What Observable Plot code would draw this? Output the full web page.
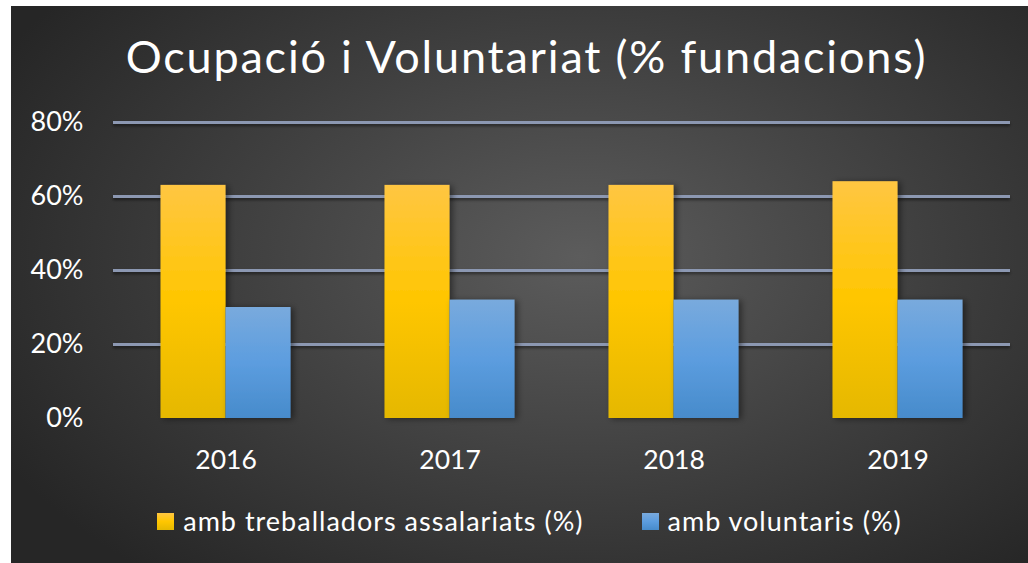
<!DOCTYPE html>
<html>
<head>
<meta charset="utf-8">
<script src="https://cdn.jsdelivr.net/npm/d3@7"></script>
<script src="https://cdn.jsdelivr.net/npm/@observablehq/plot@0.6"></script>
<style>
  html, body { margin: 0; padding: 0; background: #ffffff; }
  #card {
    position: absolute; left: 11px; top: 6px; width: 1017px; height: 557px;
    background: radial-gradient(ellipse 65% 75% at 56% 45%, #5c5c5c 0%, #3e3e3e 55%, #262626 100%);
    font-family: Lato, "Open Sans", sans-serif; color: #ffffff; overflow: hidden;
  }
  #title {
    position: absolute; left: 0; width: 100%; top: 26px; text-align: center;
    font-size: 45px; line-height: 48px; letter-spacing: 1.8px; padding-left: 14px; box-sizing: border-box;
  }
  #chart { position: absolute; left: 0; top: 95px; }
  #legend {
    position: absolute; left: 0; width: 100%; top: 500px; display: flex;
    justify-content: center; gap: 58px; font-size: 27px; line-height: 30px; letter-spacing: 1px;
    padding-left: 20px; box-sizing: border-box;
  }
  .item { display: flex; align-items: center; gap: 9px; }
  .sw { width: 17px; height: 17px; }
</style>
</head>
<body>
<div id="card">
  <div id="title">Ocupació i Voluntariat (% fundacions)</div>
  <div id="chart"></div>
  <div id="legend"></div>
</div>
<script>
const years = ["2016", "2017", "2018", "2019"];
const seriesNames = ["amb treballadors assalariats (%)", "amb voluntaris (%)"];
const assalariats = [63, 63, 63, 64];
const voluntaris = [30, 32, 32, 32];
const yTicks = [0, 20, 40, 60, 80];
const seriesColors = ["url(#gradY)", "url(#gradB)"];

const data = years.flatMap((yr, i) => [
  {year: yr, series: seriesNames[0], value: assalariats[i]},
  {year: yr, series: seriesNames[1], value: voluntaris[i]}
]);

const chart = Plot.plot({
  width: 1017,
  height: 380,
  marginTop: 21,
  marginLeft: 102,
  marginRight: 18,
  marginBottom: 63,
  style: {background: "transparent", color: "#ffffff", fontFamily: "Lato, 'Open Sans', sans-serif", overflow: "visible"},
  x: {domain: years, paddingInner: 0.71, paddingOuter: 0.355, label: null},
  y: {domain: [0, 80], label: null},
  color: {domain: seriesNames, range: seriesColors},
  marks: [
    Plot.ruleY(yTicks.filter(d => d > 0), {stroke: "#8c98b2", strokeWidth: 3}),
    Plot.ruleY([0], {stroke: "#4e4e4e", strokeWidth: 2}),
    Plot.barY(data.filter(d => d.series === seriesNames[0]), {x: "year", y: "value", fill: "series", dx: -32.5}),
    Plot.barY(data.filter(d => d.series === seriesNames[1]), {x: "year", y: "value", fill: "series", dx: 32.5}),
    Plot.axisY({ticks: yTicks, tickFormat: d => d + "%", tickSize: 0, tickPadding: 30, fontSize: 27, fill: "#ffffff", label: null}),
    Plot.axisX({tickSize: 0, tickPadding: 32, fontSize: 26.5, fill: "#ffffff", label: null})
  ]
});

const svg = d3.select(chart);
const defs = svg.insert("defs", ":first-child");
const gy = defs.append("linearGradient").attr("id", "gradY").attr("x1", 0).attr("y1", 0).attr("x2", 0).attr("y2", 1);
gy.append("stop").attr("offset", "0%").attr("stop-color", "#ffc642");
gy.append("stop").attr("offset", "50%").attr("stop-color", "#ffc600");
gy.append("stop").attr("offset", "100%").attr("stop-color", "#e5b800");
const gb = defs.append("linearGradient").attr("id", "gradB").attr("x1", 0).attr("y1", 0).attr("x2", 0).attr("y2", 1);
gb.append("stop").attr("offset", "0%").attr("stop-color", "#79aadd");
gb.append("stop").attr("offset", "50%").attr("stop-color", "#5c9ddf");
gb.append("stop").attr("offset", "100%").attr("stop-color", "#478bcb");
const sh = defs.append("filter").attr("id", "shadow").attr("x", "-20%").attr("y", "-20%").attr("width", "140%").attr("height", "140%");
sh.append("feDropShadow").attr("dx", 3).attr("dy", 1).attr("stdDeviation", 3).attr("flood-color", "#000").attr("flood-opacity", 0.45);
const gsh = defs.append("filter").attr("id", "gshadow").attr("x", "-5%").attr("y", "-200%").attr("width", "110%").attr("height", "500%");
gsh.append("feDropShadow").attr("dx", 0).attr("dy", 2).attr("stdDeviation", 1.5).attr("flood-color", "#000").attr("flood-opacity", 0.5);

svg.selectAll("g[aria-label='bar']").attr("filter", "url(#shadow)");
svg.selectAll("g[aria-label='rule']").attr("filter", "url(#gshadow)");

document.getElementById("chart").appendChild(chart);

const legend = d3.select("#legend");
const swatchCss = ["linear-gradient(#ffc642, #ffc600, #e5b800)", "linear-gradient(#79aadd, #5c9ddf, #478bcb)"];
seriesNames.forEach((name, i) => {
  const it = legend.append("div").attr("class", "item");
  it.append("div").attr("class", "sw").style("background", swatchCss[i]);
  it.append("span").text(name);
});
</script>
</body>
</html>
